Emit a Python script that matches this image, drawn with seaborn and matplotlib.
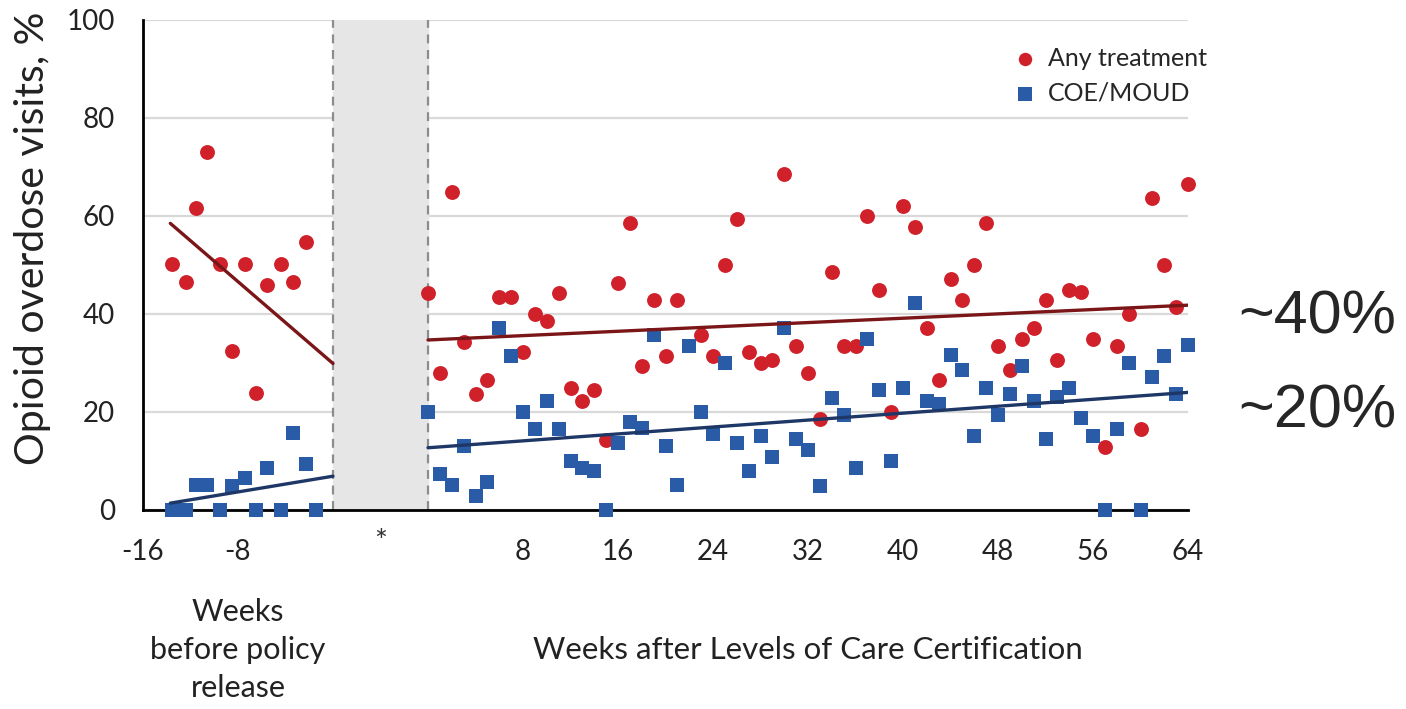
import numpy as np
import pandas as pd
import seaborn as sns
import matplotlib.pyplot as plt
import matplotlib.transforms as mtransforms

# weeks before policy release (pre period)
pre_weeks = [-13.6, -12.4, -11.5, -10.6, -9.5, -8.5, -7.4, -6.5, -5.6, -4.4, -3.4, -2.3, -1.4]
pre_any = [50.2, 46.6, 61.6, 73.0, 50.2, 32.4, 50.2, 23.8, 45.9, 50.2, 46.6, 54.6, np.nan]
pre_moud = [0, 0, 5.1, 5.1, 0, 5.0, 6.5, 0, 8.6, 0, 15.8, 9.4, 0]

# weeks after Levels of Care certification
post_weeks = list(range(65))
post_any = [44.2, 27.9, 65.0, 34.2, 23.6, 26.5, 43.5, 43.5, 32.2, 40.0,
            38.6, 44.2, 25.0, 22.2, 24.4, 14.3, 46.4, 58.6, 29.3, 42.9,
            31.4, 42.9, np.nan, 35.8, 31.5, 50.0, 59.3, 32.2, 30.1, 30.7,
            68.6, 33.5, 27.9, 18.5, 48.5, 33.5, 33.5, 60.0, 45.0, 19.9,
            62.1, 57.8, 37.1, 26.5, 47.1, 42.9, 50.0, 58.6, 33.5, 28.6,
            35.0, 37.1, 42.9, 30.7, 45.0, 44.4, 35.0, 12.9, 33.5, 40.0,
            16.5, 63.6, 50.0, 41.5, 66.5]
post_moud = [20.1, 7.3, 5.1, 13.1, 2.9, 5.8, 37.1, 31.5, 20.1, 16.5,
             22.2, 16.5, 10.0, 8.5, 8.0, 0, 13.7, 17.9, 16.7, 35.7,
             13.1, 5.1, 33.5, 19.9, 15.6, 30.1, 13.6, 8.0, 15.1, 10.9,
             37.1, 14.4, 12.2, 5.0, 22.9, 19.4, 8.6, 35.0, 24.5, 10.0,
             25.0, 42.2, 22.2, 21.6, 31.6, 28.6, 15.2, 25.0, 19.4, 23.6,
             29.4, 22.3, 14.4, 23.0, 25.0, 18.7, 15.2, 0, 16.5, 30.1,
             0, 27.2, 31.5, 23.7, 33.7]

# fitted segments (model trends)
pre_trend_weeks = [-13.7, 0]
pre_trend_any = [58.5, 29.9]
pre_trend_moud = [1.4, 6.9]
post_trend_weeks = [0, 64]
post_trend_any = [34.7, 41.8]
post_trend_moud = [12.7, 24.0]

GAP = 8  # width of the grey washout band, in weeks
RED = '#d0212b'
BLUE = '#2a5ba6'
DARK_RED = '#7a1518'
DARK_BLUE = '#1e3766'
TXT = '#222222'

sns.set_style('white')
plt.rcParams['font.family'] = ['Lato', 'DejaVu Sans']

pre = pd.DataFrame({'x': np.array(pre_weeks) - GAP, 'any': pre_any, 'moud': pre_moud})
post = pd.DataFrame({'x': post_weeks, 'any': post_any, 'moud': post_moud})

fig = plt.figure(figsize=(14.06, 7.09), dpi=100)
ax = fig.add_axes([143 / 1406, 1 - 510 / 709, 1045 / 1406, 490 / 709])

ax.axvspan(-GAP, 0, color='#e6e6e6', zorder=1)
for xv in (-GAP, 0):
    ax.axvline(xv, color='#8c8c8c', lw=1.6, ls=(0, (4, 3)), zorder=1.5)

sc_kw = dict(s=115, linewidth=0, clip_on=False, zorder=3)
sns.scatterplot(data=pre, x='x', y='any', color=RED, marker='o', ax=ax, **sc_kw)
sns.scatterplot(data=post, x='x', y='any', color=RED, marker='o', ax=ax,
                label='Any treatment', **sc_kw)
sns.scatterplot(data=pre, x='x', y='moud', color=BLUE, marker='s', ax=ax, **sc_kw)
sns.scatterplot(data=post, x='x', y='moud', color=BLUE, marker='s', ax=ax,
                label='COE/MOUD', **sc_kw)

sns.lineplot(x=np.array(pre_trend_weeks) - GAP, y=pre_trend_any, color=DARK_RED, lw=2.4, ax=ax, zorder=4)
sns.lineplot(x=np.array(pre_trend_weeks) - GAP, y=pre_trend_moud, color=DARK_BLUE, lw=2.4, ax=ax, zorder=4)
sns.lineplot(x=post_trend_weeks, y=post_trend_any, color=DARK_RED, lw=2.4, ax=ax, zorder=4)
sns.lineplot(x=post_trend_weeks, y=post_trend_moud, color=DARK_BLUE, lw=2.4, ax=ax, zorder=4)

ax.set_xlim(-16 - GAP, 64)
ax.set_ylim(0, 100)
ax.set_yticks([0, 20, 40, 60, 80, 100])
ax.yaxis.grid(True, color='#d9d9d9', lw=1.6)
ax.set_axisbelow(True)

ticks = [-16 - GAP, -8 - GAP, -GAP, 0, 8, 16, 24, 32, 40, 48, 56, 64]
labels = ['-16', '-8', '', '', '8', '16', '24', '32', '40', '48', '56', '64']
ax.set_xticks(ticks)
ax.set_xticklabels(labels)
ax.tick_params(axis='both', length=10, width=2, direction='out', labelsize=20,
               color='black', labelcolor=TXT)
ax.tick_params(axis='x', pad=11)
ax.tick_params(axis='y', pad=10)

for side in ('top', 'right'):
    ax.spines[side].set_visible(False)
for side in ('left', 'bottom'):
    ax.spines[side].set_linewidth(2)
    ax.spines[side].set_color('black')

ax.set_xlabel('')
ax.set_ylabel('Opioid overdose visits, %', fontsize=29.5, color=TXT)
ax.yaxis.set_label_coords(-0.088, 0.555)

trans = mtransforms.blended_transform_factory(ax.transData, ax.transAxes)
ax.text(-GAP / 2, -0.066, '*', transform=trans, ha='center', va='center',
        fontsize=22, color='#333333')
ax.text(-8 - GAP, -0.286, 'Weeks\nbefore policy\nrelease', transform=trans,
        ha='center', va='center', fontsize=22, linespacing=1.45, color=TXT)
ax.text(32, -0.286, 'Weeks after Levels of Care Certification', transform=trans,
        ha='center', va='center', fontsize=22.5, color=TXT)

leg = ax.legend(loc='upper left', bbox_to_anchor=(0.83, 0.945), frameon=False,
                fontsize=18, handletextpad=0.3, labelspacing=0.45,
                borderpad=0, borderaxespad=0, handlelength=1.2, markerscale=0.9)

fig.text(1238 / 1406, 1 - 334 / 709, '~40%', fontsize=44, family='Liberation Sans', va='baseline')
fig.text(1238 / 1406, 1 - 428 / 709, '~20%', fontsize=44, family='Liberation Sans', va='baseline')

fig.savefig('out.png', dpi=100)
